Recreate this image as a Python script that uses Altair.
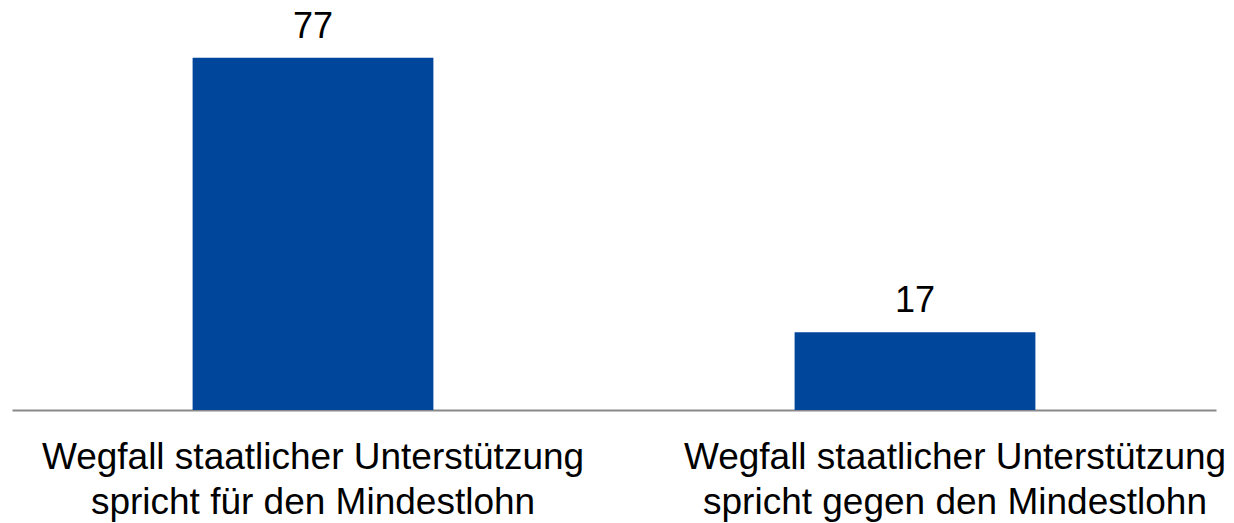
import altair as alt
import pandas as pd

categories = [
    "Wegfall staatlicher Unterstützung\nspricht für den Mindestlohn",
    "Wegfall staatlicher Unterstützung\nspricht gegen den Mindestlohn",
]
values = [77, 17]

df = pd.DataFrame({"cat": categories, "val": values})

BLUE = "#00469b"
FONT = "Liberation Sans"

x = alt.X(
    "cat:N",
    sort=categories,
    title=None,
    scale=alt.Scale(paddingInner=0.6, paddingOuter=0.3),
    axis=alt.Axis(
        labelAngle=0,
        labelExpr="split(datum.label, '\\n')",
        labelFont=FONT,
        labelFontSize=37,
        labelColor="#000000",
        labelLineHeight=45,
        labelPadding=58,
        labelLimit=1000,
        labelBaseline="alphabetic",
        labelOffset={"condition": {"test": "indexof(datum.value, 'gegen') >= 0", "value": 40}, "value": 0},
        ticks=False,
        tickSize=0,
        domainColor="#898989",
        domainWidth=2,
        grid=False,
    ),
)
y = alt.Y(
    "val:Q",
    scale=alt.Scale(domain=[0, 80], nice=False),
    axis=None,
)

bars = alt.Chart(df).mark_bar(color=BLUE).encode(x=x, y=y)
text = alt.Chart(df).mark_text(
    font=FONT, fontSize=36, color="#000000", baseline="alphabetic", dy=-20
).encode(x=alt.X("cat:N", sort=categories), y="val:Q", text="val:Q")

chart = (
    alt.layer(bars, text)
    .properties(
        width=1204,
        height=366,
        background="white",
        padding={"left": 4, "top": 36, "right": 10, "bottom": 113},
        autosize=alt.AutoSizeParams(type="none"),
    )
    .configure_view(strokeWidth=0, stroke=None)
)

chart.save("out.html", embed_options={"renderer": "svg", "actions": False})
